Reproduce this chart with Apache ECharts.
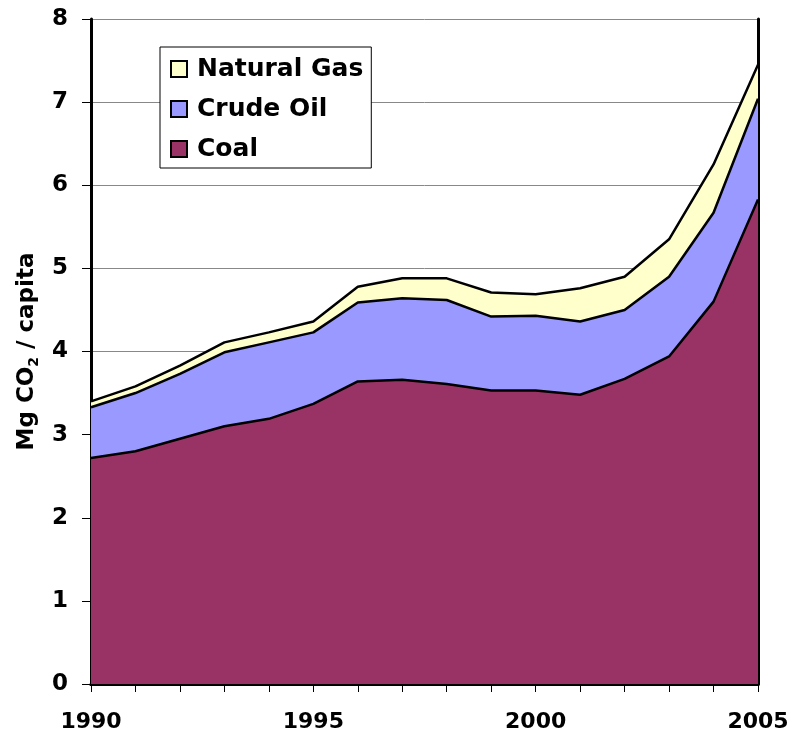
<!DOCTYPE html>
<html>
<head>
<meta charset="utf-8">
<script src="https://cdn.jsdelivr.net/npm/echarts@6/dist/echarts.min.js"></script>
<style>
html,body{margin:0;padding:0;background:#fff;}
#chart{width:794px;height:739px;}
</style>
</head>
<body>
<div id="chart"></div>
<script>
var years = ['1990','1991','1992','1993','1994','1995','1996','1997','1998','1999','2000','2001','2002','2003','2004','2005'];
var coal = [2.72,2.80,2.95,3.10,3.19,3.37,3.64,3.66,3.61,3.53,3.53,3.48,3.67,3.94,4.60,5.83];
var crudeOil = [0.61,0.70,0.78,0.89,0.92,0.86,0.95,0.98,1.01,0.89,0.90,0.88,0.83,0.96,1.07,1.21];
var naturalGas = [0.07,0.08,0.10,0.12,0.12,0.13,0.19,0.24,0.26,0.29,0.26,0.40,0.40,0.45,0.58,0.41];
var xLabelsShown = ['1990','1995','2000','2005'];

var font = '"DejaVu Sans", sans-serif';
var chart = echarts.init(document.getElementById('chart'), null, {renderer:'canvas'});

function areaSeries(name, data, color) {
  return {
    name: name, type: 'line', stack: 'total', data: data,
    symbol: 'none', smooth: false,
    lineStyle: {color: '#000', width: 2.5},
    itemStyle: {color: color, borderColor: '#000', borderWidth: 1.5},
    areaStyle: {color: color, opacity: 1}
  };
}

chart.setOption({
  animation: false,
  backgroundColor: '#fff',
  grid: {left: 91, right: 36, top: 19, bottom: 55, containLabel: false},
  legend: {
    data: ['Natural Gas','Crude Oil','Coal'],
    orient: 'vertical',
    left: 160, top: 47,
    padding: [7, 8, 4, 10],
    itemGap: 10,
    itemWidth: 16, itemHeight: 16,
    icon: 'rect',
    backgroundColor: '#fff',
    borderColor: '#000', borderWidth: 1,
    textStyle: {fontFamily: font, fontWeight: 'bold', fontSize: 25, lineHeight: 30, color: '#000', padding: [0,0,0,5]}
  },
  xAxis: [{
    type: 'category', data: years, boundaryGap: false,
    axisLine: {show: true, lineStyle: {color: '#000', width: 3}},
    axisTick: {show: true, interval: 0, length: 8, lineStyle: {color: '#000', width: 1}},
    axisLabel: {
      interval: 0, margin: 27,
      fontFamily: font, fontWeight: 'bold', fontSize: 22, color: '#000',
      formatter: function (v) { return xLabelsShown.indexOf(v) >= 0 ? v : ''; }
    },
    splitLine: {show: false}
  }, {
    type: 'category', data: years, boundaryGap: false, position: 'top',
    axisLine: {show: true, lineStyle: {color: '#000', width: 3}},
    axisTick: {show: false}, axisLabel: {show: false}, splitLine: {show: false}
  }],
  yAxis: [{
    type: 'value', min: 0, max: 8, interval: 1,
    name: '{a|Mg CO}{s|2}{a| / capita}',
    nameLocation: 'middle', nameGap: 50, nameRotate: 90,
    nameTextStyle: {
      fontFamily: font, fontWeight: 'bold', fontSize: 23, color: '#000',
      rich: {
        a: {fontFamily: font, fontWeight: 'bold', fontSize: 23, color: '#000', lineHeight: 28},
        s: {fontFamily: font, fontWeight: 'bold', fontSize: 14, color: '#000', lineHeight: 28, verticalAlign: 'bottom', padding: [10,0,0,0]}
      }
    },
    axisLine: {show: true, lineStyle: {color: '#000', width: 3}},
    axisTick: {show: true, length: 9, lineStyle: {color: '#000', width: 1}},
    axisLabel: {margin: 23, fontFamily: font, fontWeight: 'bold', fontSize: 23, color: '#000'},
    splitLine: {show: true, lineStyle: {color: '#888', width: 1}}
  }, {
    type: 'value', min: 0, max: 8, interval: 1, position: 'right',
    axisLine: {show: true, lineStyle: {color: '#000', width: 3}},
    axisTick: {show: false}, axisLabel: {show: false}, splitLine: {show: false}
  }],
  series: [
    areaSeries('Coal', coal, '#993366'),
    areaSeries('Crude Oil', crudeOil, '#9999FF'),
    areaSeries('Natural Gas', naturalGas, '#FFFFCC')
  ]
});
</script>
</body>
</html>
